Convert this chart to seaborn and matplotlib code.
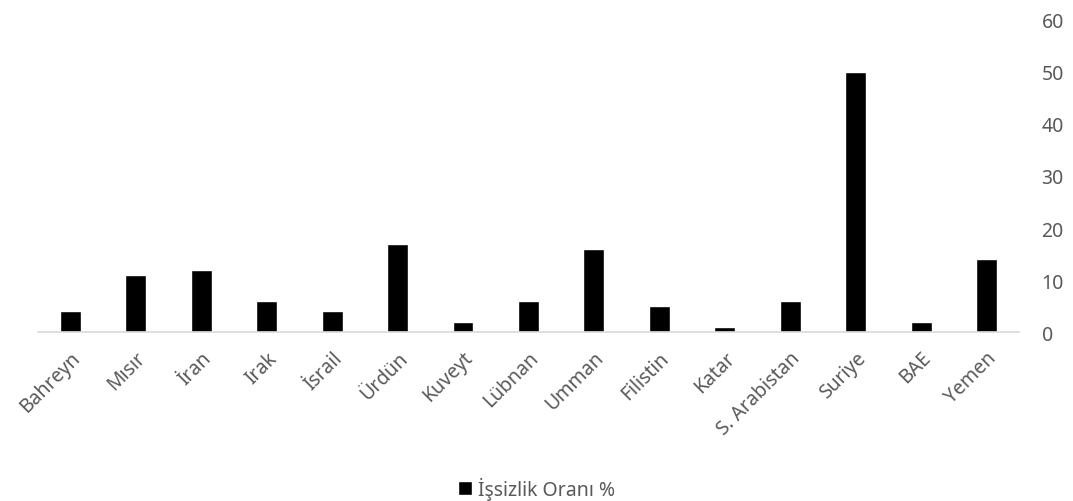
import matplotlib
matplotlib.use("Agg")
import matplotlib.pyplot as plt
import seaborn as sns
import pandas as pd
from matplotlib.patches import Patch

# -----------------------------
# Data
# -----------------------------
ulkeler = ["Bahreyn", "Mısır", "İran", "Irak", "İsrail", "Ürdün", "Kuveyt",
           "Lübnan", "Umman", "Filistin", "Katar", "S. Arabistan", "Suriye",
           "BAE", "Yemen"]
issizlik = [4, 11, 12, 6, 4, 17, 2, 6, 16, 5, 1, 6, 50, 2, 14]
y_ticks = [0, 10, 20, 30, 40, 50, 60]
seri_adi = "İşsizlik Oranı %"

df = pd.DataFrame({"Ülke": ulkeler, "Oran": issizlik})

sns.set_theme(style="white")
plt.rcParams['font.family'] = ['Noto Sans', 'DejaVu Sans']

text_color = "#595959"
fs = 14

fig = plt.figure(figsize=(10.73, 5.02), dpi=100)
ax = fig.add_axes([0.035, 0.336, 0.915, 0.623])

sns.barplot(data=df, x="Ülke", y="Oran", color="black", width=0.32,
            saturation=1, ax=ax)

ax.set_ylim(0, 60)
ax.set_yticks(y_ticks)
ax.yaxis.tick_right()
ax.tick_params(axis="y", length=0, labelsize=fs, labelcolor=text_color, pad=16)
ax.tick_params(axis="x", length=0, labelsize=fs, labelcolor=text_color, pad=11)
plt.setp(ax.get_xticklabels(), rotation=45, ha="right", rotation_mode="anchor")

ax.set_xlabel("")
ax.set_ylabel("")
for side in ["left", "right", "top"]:
    ax.spines[side].set_visible(False)
ax.spines["bottom"].set_color("#d9d9d9")
ax.spines["bottom"].set_linewidth(1.2)
ax.set_xlim(-0.5, len(ulkeler) - 0.5)

fig.legend(handles=[Patch(facecolor="black", label=seri_adi)],
           loc="center", bbox_to_anchor=(0.5, 0.025), frameon=False,
           fontsize=fs, labelcolor=text_color, handlelength=0.75,
           handleheight=0.75, handletextpad=0.3)

plt.savefig("out.png", dpi=100)
